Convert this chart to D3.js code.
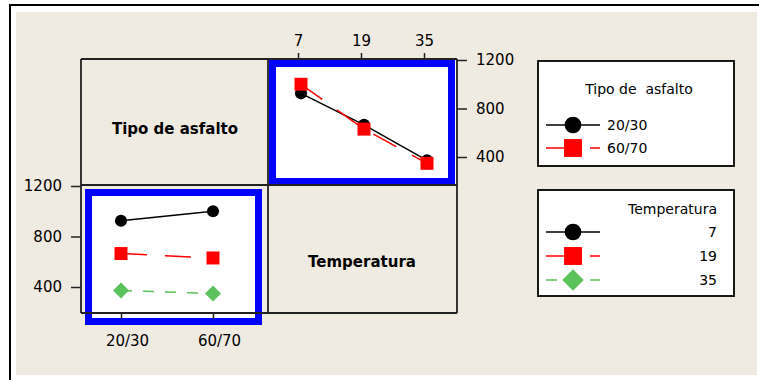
<!doctype html>
<html lang="en">
<head>
  <meta charset="utf-8">
  <script src="https://d3js.org/d3.v7.min.js"></script>
  <style>
    body { margin: 0; background: #fff; }
    text { font-family: "DejaVu Sans", sans-serif; fill: #000; white-space: pre; }
  </style>
</head>
<body>
  <div id="chart"></div>
  <script>
    // interaction plot data (means of the response)
    var tipos = ["20/30", "60/70"];
    var temps = ["7", "19", "35"];
    var mean2030 = [925, 665, 372];   // 20/30 at 7, 19, 35
    var mean6070 = [1000, 630, 348];  // 60/70 at 7, 19, 35
    var yTicks = [400, 800, 1200];

    var width = 759, height = 380;
    var svg = d3.select("#chart").append("svg")
      .attr("width", width)
      .attr("height", height);

    // background + frame
    svg.append("rect").attr("x", 16).attr("y", 12).attr("width", 741).attr("height", 363)
      .attr("fill", "#f0ebe1");
    svg.append("line").attr("x1", 9).attr("x2", 759).attr("y1", 5).attr("y2", 5)
      .attr("stroke", "#000").attr("stroke-width", 2);
    svg.append("line").attr("x1", 10).attr("x2", 10).attr("y1", 5).attr("y2", 380)
      .attr("stroke", "#000").attr("stroke-width", 2);

    // grid of panels
    var gx = [81, 268, 457], gy = [59, 185, 313];

    // white plot areas
    svg.append("rect").attr("x", 269).attr("y", 60).attr("width", 187).attr("height", 125).attr("fill", "#fff");
    svg.append("rect").attr("x", 85).attr("y", 189).attr("width", 177).attr("height", 136).attr("fill", "#fff");

    // scales
    var xTemp = d3.scalePoint().domain(temps).range([298, 424]);
    var yTop = d3.scaleLinear().domain([400, 1200]).range([157, 60]);
    var xTipo = d3.scalePoint().domain(tipos).range([121, 213]);
    var yBot = d3.scaleLinear().domain([400, 1200]).range([287, 186]);

    var styles = [
      { color: "#000", dash: null, type: "circle", size: 115 },
      { color: "#ff0000", dash: "26,18", type: "square", size: 169 },
      { color: "#5cc25c", dash: "11,11", type: "diamond", size: 128 }
    ];

    function marker(g, st, x, y, scale) {
      var k = scale || 1;
      var sym = st.type == "circle" ? d3.symbolCircle : d3.symbolSquare;
      var rot = st.type == "diamond" ? " rotate(45)" : "";
      g.append("path").attr("d", d3.symbol().type(sym).size(st.size * k)())
        .attr("transform", "translate(" + x + "," + y + ")" + rot).attr("fill", st.color);
    }

    var line = d3.line();

    // top-right panel: x = Temperatura, one line per Tipo de asfalto
    var topG = svg.append("g");
    [mean2030, mean6070].forEach(function (vals, i) {
      var pts = temps.map(function (t, j) { return [xTemp(t) + 3, yTop(vals[j])]; });
      topG.append("path").attr("d", line(pts)).attr("fill", "none")
        .attr("stroke", styles[i].color).attr("stroke-width", 1.5)
        .attr("stroke-dasharray", styles[i].dash);
    });
    [mean2030, mean6070].forEach(function (vals, i) {
      temps.forEach(function (t, j) { marker(topG, styles[i], xTemp(t) + 3, yTop(vals[j])); });
    });

    // bottom-left panel: x = Tipo de asfalto, one line per Temperatura
    var botG = svg.append("g");
    temps.forEach(function (t, i) {
      var vals = [mean2030[i], mean6070[i]];
      var pts = tipos.map(function (tp, j) { return [xTipo(tp), yBot(vals[j])]; });
      botG.append("path").attr("d", line(pts)).attr("fill", "none")
        .attr("stroke", styles[i].color).attr("stroke-width", 1.5)
        .attr("stroke-dasharray", styles[i].dash);
      tipos.forEach(function (tp, j) { marker(botG, styles[i], xTipo(tp), yBot(vals[j])); });
    });

    // blue highlight frames
    svg.append("rect").attr("x", 272.5).attr("y", 63.5).attr("width", 179).attr("height", 118)
      .attr("fill", "none").attr("stroke", "#0000ff").attr("stroke-width", 7);
    svg.append("rect").attr("x", 88.5).attr("y", 192.5).attr("width", 170).attr("height", 129)
      .attr("fill", "none").attr("stroke", "#0000ff").attr("stroke-width", 7);

    // panel grid lines
    var frame = svg.append("g").attr("stroke", "#222").attr("stroke-width", 1.8);
    gx.forEach(function (x) {
      frame.append("line").attr("x1", x).attr("x2", x).attr("y1", gy[0]).attr("y2", gy[2]);
    });
    gy.forEach(function (y) {
      frame.append("line").attr("x1", gx[0]).attr("x2", gx[2]).attr("y1", y).attr("y2", y);
    });

    // axes
    var fmt = d3.format("d");
    var axTop = svg.append("g").attr("transform", "translate(0," + gy[0] + ")")
      .call(d3.axisTop(xTemp).tickSize(6).tickPadding(7));
    var axRight = svg.append("g").attr("transform", "translate(" + gx[2] + ",0)")
      .call(d3.axisRight(yTop).tickValues(yTicks).tickFormat(fmt).tickSize(10).tickPadding(9));
    var axLeft = svg.append("g").attr("transform", "translate(" + gx[0] + ",0)")
      .call(d3.axisLeft(yBot).tickValues(yTicks).tickFormat(fmt).tickSize(10).tickPadding(9));
    var axBot = svg.append("g").attr("transform", "translate(0," + gy[2] + ")")
      .call(d3.axisBottom(xTipo).tickSize(6).tickPadding(16));
    [axTop, axRight, axLeft, axBot].forEach(function (a) {
      a.select(".domain").remove();
      a.selectAll("line").attr("stroke", "#222").attr("stroke-width", 1.5);
      a.selectAll("text").style("font-family", "DejaVu Sans").style("font-size", "15px");
    });
    axBot.selectAll("text").attr("dx", 6);

    // panel labels
    svg.append("text").attr("x", 175).attr("y", 134).attr("text-anchor", "middle")
      .style("font-size", "15px").style("font-weight", "bold").text("Tipo de asfalto");
    svg.append("text").attr("x", 362).attr("y", 267).attr("text-anchor", "middle")
      .style("font-size", "15px").style("font-weight", "bold").text("Temperatura");

    // legends
    function legend(y0, h, title, anchor, tx, labels, sts, rowY, lx, ranchor) {
      var g = svg.append("g");
      g.append("rect").attr("x", 538).attr("y", y0).attr("width", 196).attr("height", h)
        .attr("fill", "#fff").attr("stroke", "#000").attr("stroke-width", 1.8);
      g.append("text").attr("x", tx).attr("y", rowY[0]).attr("text-anchor", anchor)
        .style("font-size", "14px").text(title);
      labels.forEach(function (lab, i) {
        var y = rowY[i + 1];
        var st = sts[i];
        g.append("line").attr("x1", 546).attr("x2", 600).attr("y1", y).attr("y2", y)
          .attr("stroke", st.color).attr("stroke-width", 1.5)
          .attr("stroke-dasharray", st.dash);
        marker(g, st, 573, y, st.type == "diamond" ? 1.8 : 1.9);
        g.append("text").attr("x", lx).attr("y", y + 5).attr("text-anchor", ranchor)
          .style("font-size", "14px").text(lab);
      });
    }
    legend(61, 105, "Tipo de  asfalto", "middle", 639, tipos, styles.slice(0, 2), [94, 125, 148], 607, "start");
    legend(190, 106, "Temperatura", "end", 717, temps, styles, [214, 232, 256, 280], 717, "end");
  </script>
</body>
</html>
